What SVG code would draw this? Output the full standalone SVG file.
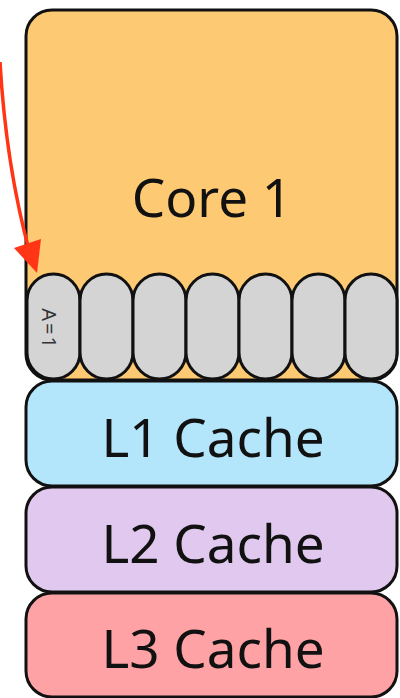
<svg xmlns="http://www.w3.org/2000/svg" width="400" height="698" viewBox="0 0 400 698">
  <style>
    .box { stroke: #111; stroke-width: 3; }
    .pill { fill: #d4d4d4; stroke: #111; stroke-width: 3; }
    .label { font-family: "Noto Sans", "Open Sans", sans-serif; font-size: 53px; fill: #111; text-anchor: middle; }
    .reg { font-family: "Noto Sans", "Open Sans", sans-serif; font-size: 20px; letter-spacing: 2px; fill: #333; text-anchor: middle; }
  </style>
  <rect width="400" height="698" fill="#ffffff"/>

  <g id="core1">
    <rect class="box" x="26" y="10" width="371" height="370" rx="26" fill="#fdca73"/>
    <text class="label" x="212" y="217">Core 1</text>
  </g>

  <g id="registers">
    <rect class="pill" x="27" y="274" width="53" height="105" rx="26.5"/>
    <rect class="pill" x="80" y="274" width="53" height="105" rx="26.5"/>
    <rect class="pill" x="133" y="274" width="53" height="105" rx="26.5"/>
    <rect class="pill" x="186" y="274" width="53" height="105" rx="26.5"/>
    <rect class="pill" x="239" y="274" width="53" height="105" rx="26.5"/>
    <rect class="pill" x="292" y="274" width="53" height="105" rx="26.5"/>
    <rect class="pill" x="345" y="274" width="52" height="105" rx="26"/>
    <text class="reg" transform="translate(42,329) rotate(90)">A=1</text>
  </g>

  <g id="l1">
    <rect class="box" x="26" y="381" width="371" height="105" rx="26" fill="#b3e5fb"/>
    <text class="label" x="213" y="457">L1 Cache</text>
  </g>

  <g id="l2">
    <rect class="box" x="26" y="487" width="371" height="105" rx="26" fill="#e0c8ee"/>
    <text class="label" x="213" y="563">L2 Cache</text>
  </g>

  <g id="l3">
    <rect class="box" x="26" y="593" width="371" height="104" rx="26" fill="#fea2a5"/>
    <text class="label" x="213" y="668">L3 Cache</text>
  </g>

  <g id="connectors">
    <path d="M0,62 Q6,165 29,250" fill="none" stroke="#ff3515" stroke-width="3.5"/>
    <path d="M14,248 L41,239 L37,273 Z" fill="#ff3515"/>
  </g>
</svg>
